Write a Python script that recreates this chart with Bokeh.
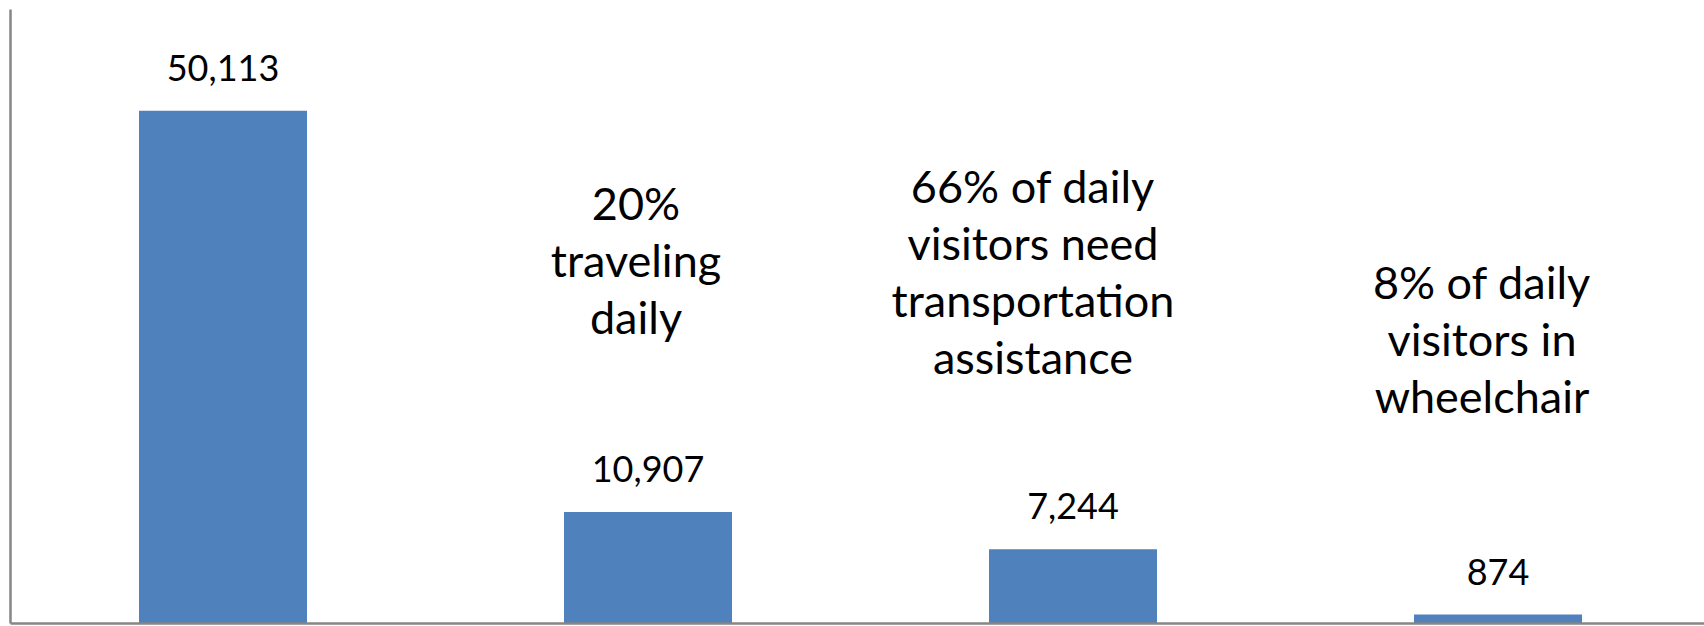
from bokeh.plotting import figure
from bokeh.models import Range1d, ColumnDataSource, FixedTicker
from bokeh.embed import file_html
from bokeh.resources import INLINE
from bokeh.core.properties import value

# ---- data ----
categories = ["Daily visitors", "Traveling daily", "Need transportation assistance", "In wheelchair"]
counts = [50113, 10907, 7244, 874]
note_lines = [
    [],
    ["20%", "traveling", "daily"],
    ["66% of daily", "visitors need", "transportation", "assistance"],
    ["8% of daily", "visitors in", "wheelchair"],
]
y_max = 60000

# ---- layout / style ----
FONT = "Lato"
BAR_COLOR = "#4F81BD"
AXIS_COLOR = "#868686"
note_dx = [0, -12, -40, -16]          # px shift of each note block from bar centre
note_top = [0, 193, 176, 272]         # px from top of frame to first line
note_step = 57                        # px between note lines
label_gap = -43                       # px from bar top to value label

idx = list(range(len(categories)))
src = ColumnDataSource(dict(
    x=idx,
    top=counts,
    label=[f"{c:,}" for c in counts],
))

frame_w = 1694
frame_h = 614
unit_px = 425.0
p = figure(frame_width=frame_w, frame_height=frame_h, output_backend="svg", toolbar_location=None,
           x_range=Range1d(-0.5, -0.5 + frame_w / unit_px), y_range=Range1d(0, y_max),
           min_border_left=10, min_border_right=0, min_border_top=9, min_border_bottom=3)

p.vbar(x="x", top="top", width=168 / unit_px, source=src, color=BAR_COLOR, line_color=None)

p.text(x="x", y="top", text="label", source=src, y_offset=label_gap,
       text_align="center", text_baseline="alphabetic",
       text_font=value(FONT), text_font_size="36px", text_color="black")

nx, ny, nt, nxo, nyo = [], [], [], [], []
for i, lines in enumerate(note_lines):
    for j, line in enumerate(lines):
        nx.append(i)
        ny.append(y_max)
        nt.append(line)
        nxo.append(note_dx[i])
        nyo.append(note_top[i] + j * note_step)
nsrc = ColumnDataSource(dict(x=nx, y=ny, text=nt, xo=nxo, yo=nyo))
p.text(x="x", y="y", text="text", x_offset="xo", y_offset="yo", source=nsrc,
       text_align="center", text_baseline="alphabetic",
       text_font=value(FONT), text_font_size="45px", text_color="black")

for ax in (p.xaxis[0], p.yaxis[0]):
    ax.ticker = FixedTicker(ticks=[])
    ax.axis_line_color = AXIS_COLOR
    ax.axis_line_width = 2.5
    ax.major_tick_line_color = None
    ax.minor_tick_line_color = None
    ax.major_tick_out = 0
    ax.major_tick_in = 0
    ax.minor_tick_out = 0
    ax.minor_tick_in = 0
    ax.major_label_standoff = 0

p.xgrid.visible = False
p.ygrid.visible = False
p.outline_line_color = None
p.background_fill_color = "white"
p.border_fill_color = "white"

open("out.html", "w").write(file_html(p, INLINE))
